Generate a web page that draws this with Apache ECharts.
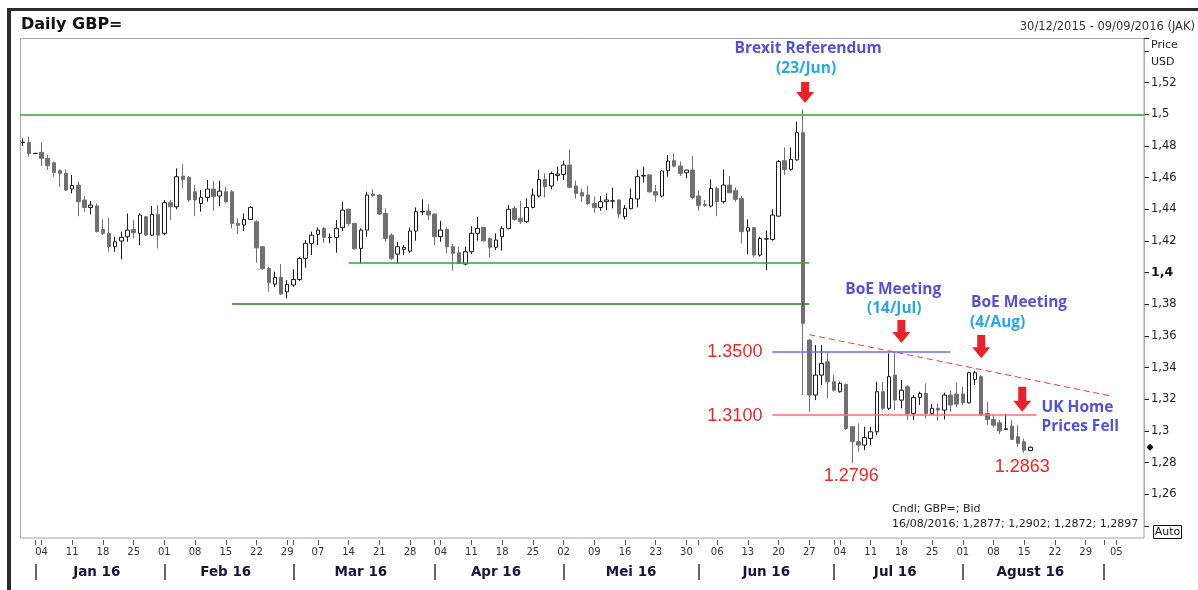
<!DOCTYPE html>
<html>
<head>
<meta charset="utf-8">
<script src="https://cdn.jsdelivr.net/npm/echarts@6/dist/echarts.min.js"></script>
<style>
html,body{margin:0;padding:0;background:#ffffff;}
#c{width:1198px;height:590px;}
</style>
</head>
<body>
<div id="c"></div>
<script>
// ---------------- DATA ----------------
// Axis calendar: every weekday from 30/12/2015 to 09/09/2016 (x-axis categories)
const rangeStart = [2015, 11, 30];
const rangeEnd = [2016, 8, 9];

// Daily GBP= candles, 30/12/2015 .. 16/08/2016 (one value per trading day)
const openPrices = [
1.4822,1.4821,1.4752,1.4760,1.4722,1.4694,1.4644,1.4627,1.4528,1.4553,1.4459,1.4412,1.4421,1.4273,1.4248,1.4164,1.4200,1.4227,1.4273,1.4248,
1.4353,1.4237,1.4368,1.4248,1.4442,1.4416,1.4610,1.4602,1.4511,1.4437,1.4475,1.4528,1.4484,1.4511,1.4511,1.4311,1.4301,1.4336,1.4322,1.4164,
1.4027,1.3928,1.3970,1.3879,1.3922,1.3957,1.4090,1.4185,1.4242,1.4280,1.4222,1.4223,1.4284,1.4400,1.4311,1.4153,1.4269,1.4496,1.4490,1.4374,
1.4237,1.4117,1.4147,1.4136,1.4263,1.4383,1.4389,1.4370,1.4227,1.4273,1.4164,1.4126,1.4054,1.4132,1.4248,1.4286,1.4216,1.4160,1.4227,1.4280,
1.4406,1.4343,1.4322,1.4412,1.4484,1.4589,1.4547,1.4614,1.4621,1.4680,1.4547,1.4505,1.4490,1.4437,1.4412,1.4448,1.4452,1.4459,1.4353,1.4404,
1.4465,1.4610,1.4617,1.4511,1.4484,1.4644,1.4707,1.4673,1.4631,1.4648,1.4484,1.4431,1.4421,1.4532,1.4448,1.4553,1.4518,1.4469,1.4263,1.4284,
1.4111,1.4212,1.4210,1.4357,1.4707,1.4652,1.4712,1.4884,1.3574,1.3227,1.3353,1.3437,1.3311,1.3248,1.3294,1.3027,1.2932,1.2911,1.2953,1.2995,
1.3248,1.3143,1.3353,1.3195,1.3279,1.3111,1.3212,1.3237,1.3111,1.3143,1.3132,1.3227,1.3233,1.3233,1.3178,1.3326,1.3343,1.3111,1.3073,1.3052,
1.3010,1.3031,1.2964,1.2932,1.2877
];
const highPrices = [
1.4848,1.4859,1.4756,1.4823,1.4743,1.4701,1.4652,1.4652,1.4617,1.4574,1.4484,1.4452,1.4437,1.4336,1.4349,1.4227,1.4259,1.4374,1.4332,1.4374,
1.4357,1.4421,1.4427,1.4459,1.4459,1.4659,1.4686,1.4610,1.4553,1.4522,1.4585,1.4579,1.4581,1.4543,1.4522,1.4343,1.4374,1.4421,1.4332,1.4168,
1.4037,1.4006,1.4054,1.3953,1.4021,1.4101,1.4206,1.4259,1.4286,1.4286,1.4248,1.4332,1.4448,1.4406,1.4315,1.4280,1.4511,1.4526,1.4496,1.4406,
1.4248,1.4195,1.4174,1.4286,1.4412,1.4463,1.4433,1.4374,1.4328,1.4286,1.4181,1.4164,1.4164,1.4294,1.4353,1.4290,1.4223,1.4248,1.4294,1.4427,
1.4421,1.4454,1.4469,1.4532,1.4648,1.4627,1.4638,1.4669,1.4707,1.4779,1.4581,1.4532,1.4549,1.4480,1.4484,1.4501,1.4536,1.4463,1.4427,1.4532,
1.4648,1.4669,1.4623,1.4553,1.4648,1.4743,1.4753,1.4701,1.4648,1.4737,1.4518,1.4459,1.4589,1.4543,1.4652,1.4610,1.4539,1.4484,1.4336,1.4286,
1.4227,1.4265,1.4400,1.4711,1.4791,1.4791,1.4954,1.5030,1.3580,1.3543,1.3543,1.3501,1.3353,1.3311,1.3300,1.3031,1.3048,1.3027,1.3027,1.3311,
1.3311,1.3490,1.3501,1.3322,1.3290,1.3227,1.3248,1.3300,1.3170,1.3174,1.3242,1.3254,1.3305,1.3279,1.3374,1.3381,1.3353,1.3185,1.3101,1.3069,
1.3107,1.3069,1.3037,1.2953,1.2902
];
const lowPrices = [
1.4800,1.4732,1.4750,1.4673,1.4648,1.4606,1.4543,1.4515,1.4501,1.4357,1.4385,1.4368,1.4254,1.4237,1.4132,1.4132,1.4084,1.4195,1.4216,1.4174,
1.4231,1.4231,1.4153,1.4237,1.4332,1.4400,1.4532,1.4448,1.4357,1.4385,1.4448,1.4391,1.4421,1.4437,1.4280,1.4244,1.4263,1.4332,1.4063,1.4016,
1.3879,1.3911,1.3858,1.3837,1.3911,1.3949,1.4031,1.4111,1.4174,1.4189,1.4185,1.4126,1.4263,1.4294,1.4143,1.4058,1.4227,1.4480,1.4364,1.4195,
1.4080,1.4058,1.4111,1.4126,1.4202,1.4364,1.4332,1.4174,1.4195,1.4122,1.4012,1.4054,1.4048,1.4117,1.4202,1.4195,1.4096,1.4143,1.4139,1.4273,
1.4328,1.4307,1.4315,1.4406,1.4475,1.4475,1.4526,1.4581,1.4585,1.4532,1.4467,1.4448,1.4427,1.4379,1.4391,1.4395,1.4406,1.4343,1.4336,1.4400,
1.4412,1.4568,1.4505,1.4448,1.4475,1.4606,1.4665,1.4610,1.4596,1.4463,1.4391,1.4416,1.4412,1.4357,1.4437,1.4501,1.4448,1.4185,1.4117,1.4096,
1.4101,1.4016,1.4202,1.4353,1.4617,1.4644,1.4707,1.3227,1.3122,1.3195,1.3290,1.3206,1.3248,1.3242,1.3006,1.2796,1.2869,1.2879,1.2911,1.2974,
1.3132,1.3132,1.3132,1.3143,1.3069,1.3069,1.3164,1.3079,1.3101,1.3065,1.3073,1.3122,1.3153,1.3164,1.3174,1.3290,1.3094,1.3037,1.3023,1.2980,
1.3006,1.2943,1.2900,1.2863,1.2872
];
const closePrices = [
1.4824,1.4753,1.4754,1.4722,1.4675,1.4633,1.4627,1.4522,1.4551,1.4448,1.4412,1.4427,1.4259,1.4248,1.4164,1.4195,1.4223,1.4269,1.4252,1.4364,
1.4237,1.4368,1.4237,1.4442,1.4416,1.4606,1.4589,1.4459,1.4459,1.4475,1.4528,1.4480,1.4515,1.4448,1.4311,1.4299,1.4336,1.4412,1.4157,1.4027,
1.3936,1.3970,1.3865,1.3926,1.3957,1.4090,1.4185,1.4237,1.4269,1.4223,1.4224,1.4280,1.4395,1.4311,1.4153,1.4269,1.4490,1.4488,1.4370,1.4216,
1.4090,1.4164,1.4160,1.4263,1.4385,1.4387,1.4364,1.4227,1.4269,1.4164,1.4122,1.4058,1.4132,1.4248,1.4280,1.4202,1.4160,1.4206,1.4280,1.4400,
1.4336,1.4322,1.4412,1.4490,1.4589,1.4543,1.4627,1.4623,1.4680,1.4539,1.4501,1.4484,1.4437,1.4412,1.4448,1.4459,1.4454,1.4370,1.4406,1.4469,
1.4606,1.4614,1.4511,1.4490,1.4642,1.4705,1.4673,1.4627,1.4648,1.4475,1.4425,1.4425,1.4532,1.4448,1.4553,1.4505,1.4463,1.4259,1.4284,1.4111,
1.4216,1.4214,1.4364,1.4701,1.4652,1.4715,1.4884,1.3680,1.3227,1.3353,1.3427,1.3311,1.3258,1.3301,1.3016,1.2932,1.2911,1.2959,1.2995,1.3248,
1.3143,1.3343,1.3195,1.3258,1.3111,1.3212,1.3237,1.3111,1.3143,1.3132,1.3227,1.3164,1.3170,1.3178,1.3368,1.3368,1.3101,1.3073,1.3037,1.3001,
1.3014,1.2947,1.2922,1.2879,1.2897
];

// Tick labels
const yTickValues = [1.26,1.28,1.3,1.32,1.34,1.36,1.38,1.4,1.42,1.44,1.46,1.48,1.5,1.52];
const monthLabels = {'2016-01':'Jan 16','2016-02':'Feb 16','2016-03':'Mar 16','2016-04':'Apr 16','2016-05':'Mei 16','2016-06':'Jun 16','2016-07':'Jul 16','2016-08':'Agust 16'};

// Reference levels drawn on the chart
const levelTop = 1.5;
const supportHigh = 1.4065;
const supportLow = 1.3804;
const level1350 = 1.35;
const level1310 = 1.31;
const trendStart = 1.3608, trendEnd = 1.3222;
const lastClose = 1.2897;

// Texts
const titleText = 'Daily GBP=';
const rangeText = '30/12/2015 - 09/09/2016 (JAK)';
const infoLines = ['Cndl; GBP=; Bid', '16/08/2016; 1,2877; 1,2902; 1,2872; 1,2897'];
const eventTitles = ['Brexit Referendum', 'BoE Meeting', 'BoE Meeting'];
const eventDates = ['(23/Jun)', '(14/Jul)', '(4/Aug)'];
const homeTexts = ['UK Home', 'Prices Fell'];
const levelTexts = ['1.3500', '1.3100', '1.2796', '1.2863'];

// ---------------- BUILD ----------------
const dates = [];
for (let t = Date.UTC(rangeStart[0], rangeStart[1], rangeStart[2]); t <= Date.UTC(rangeEnd[0], rangeEnd[1], rangeEnd[2]); t += 86400000) {
  const d = new Date(t); const wd = d.getUTCDay();
  if (wd !== 0 && wd !== 6) dates.push(d.toISOString().slice(0, 10));
}
const isMonday = i => new Date(dates[i] + 'T00:00:00Z').getUTCDay() === 1;
const isMonthStart = i => i > 0 && dates[i].slice(0, 7) !== dates[i - 1].slice(0, 7);
const monthMid = new Set();
(function () {
  let a = 0;
  for (let i = 1; i <= dates.length; i++) {
    if (i === dates.length || dates[i].slice(0, 7) !== dates[i - 1].slice(0, 7)) {
      if (monthLabels[dates[a].slice(0, 7)] && a > 0) monthMid.add(a + Math.floor((i - a) / 2));
      a = i;
    }
  }
})();
const candles = openPrices.map((o, i) => [o, closePrices[i], lowPrices[i], highPrices[i]]);

const DV = '"DejaVu Sans", Verdana, sans-serif';
const AR = '"Liberation Sans", Arial, sans-serif';
const OS = '"Open Sans", sans-serif';
const VIOLET = '#5150dc';
const SKY = '#29a6e6';
const RED = '#f02626';
const ARROW = '#e82228';

const fmtY = v => {
  const r = Math.round(v * 100) / 100;
  if (!yTickValues.some(t => Math.abs(t - r) < 1e-9)) return '';
  const s = String(r).replace('.', ',');
  return Math.abs(r - 1.4) < 1e-9 ? '{b|' + s + '}' : s;
};

const option = {
  animation: false,
  backgroundColor: '#ffffff',
  grid: { left: 20, right: 54, top: 38, bottom: 64, outerBoundsMode: 'none', containLabel: false },
  xAxis: [
    {
      type: 'category', data: dates, boundaryGap: true, offset: 14,
      axisLine: { show: false },
      axisTick: { show: true, alignWithLabel: true, length: 5, interval: (i) => isMonday(i) || isMonthStart(i), lineStyle: { color: '#555', width: 1 } },
      axisLabel: { interval: (i) => isMonday(i), formatter: v => v.slice(8, 10), margin: 7, fontFamily: DV, fontSize: 10, color: '#333' },
      splitLine: { show: false }
    },
    {
      type: 'category', data: dates, boundaryGap: true, offset: 38, position: 'bottom',
      axisLine: { show: false },
      axisTick: { show: true, alignWithLabel: true, length: 16, interval: (i) => isMonthStart(i), lineStyle: { color: '#333', width: 1.5 } },
      axisLabel: { interval: (i) => monthMid.has(i), formatter: v => monthLabels[v.slice(0, 7)] || '', margin: 1, fontFamily: DV, fontSize: 13.5, fontWeight: 'bold', color: '#15153a' },
      splitLine: { show: false }
    }
  ],
  yAxis: {
    type: 'value', position: 'right', min: 1.24, max: 1.5482, interval: 0.02, scale: true,
    axisLine: { show: true, lineStyle: { color: '#b4b4c0', width: 1 } },
    axisTick: { show: true, length: 5, lineStyle: { color: '#222', width: 1 } },
    axisLabel: { formatter: fmtY, margin: 7, fontFamily: DV, fontSize: 11.5, color: '#222',
      showMinLabel: true, showMaxLabel: true,
      rich: { b: { fontFamily: DV, fontSize: 12.5, fontWeight: 'bold', color: '#111' } } },
    splitLine: { show: false }
  },
  series: [{
    type: 'candlestick',
    data: candles,
    barWidth: 4,
    itemStyle: {
      color: '#ffffff', color0: '#707070',
      borderColor: '#1a1a1a', borderColor0: '#707070', borderColorDoji: '#1a1a1a', borderWidth: 1
    },
    emphasis: { disabled: true },
    markLine: {
      silent: true, symbol: 'none', animation: false,
      label: { show: false },
      emphasis: { disabled: true },
      data: [
        { yAxis: levelTop, lineStyle: { color: '#35a335', width: 1.5, type: 'solid' } },
        [{ coord: [dates[53], supportHigh], lineStyle: { color: '#35a335', width: 1.5, type: 'solid' } }, { coord: [dates[128], supportHigh] }],
        [{ coord: [dates[34], supportLow], lineStyle: { color: '#1f861f', width: 1.5, type: 'solid' } }, { coord: [dates[128], supportLow] }],
        [{ coord: [dates[122], level1350], lineStyle: { color: '#6d6dfa', width: 1.5, type: 'solid' } }, { coord: [dates[151], level1350] }],
        [{ coord: [dates[122], level1310], lineStyle: { color: '#ff6f6f', width: 1.5, type: 'solid' } }, { coord: [dates[165], level1310] }],
        [{ coord: [dates[128], trendStart], lineStyle: { color: '#ff3636', width: 1, type: [6, 4] } }, { coord: [dates[177], trendEnd] }]
      ]
    }
  }]
};

const chart = echarts.init(document.getElementById('c'), null, { renderer: 'canvas' });
chart.setOption(option);

const X = i => chart.convertToPixel({ xAxisIndex: 0 }, dates[i]);
const Y = p => chart.convertToPixel({ yAxisIndex: 0 }, p);

function txt(text, x, y, font, fill, align) {
  return { type: 'text', silent: true, z: 100, x: x, y: y,
    style: { text: text, font: font, fill: fill, textAlign: align || 'center', textVerticalAlign: 'middle', align: align || 'center', verticalAlign: 'middle' } };
}
function arrow(cx, yTop, yTip) {
  const hh = 11, sw = 4, hw = 9;
  return { type: 'polygon', silent: true, z: 100,
    shape: { points: [[cx - sw, yTop], [cx + sw, yTop], [cx + sw, yTip - hh], [cx + hw, yTip - hh], [cx, yTip], [cx - hw, yTip - hh], [cx - sw, yTip - hh]] },
    style: { fill: ARROW } };
}

const annFont = 'bold 15.5px ' + OS;
const numFont = '18px ' + AR;
const g = [];
// outer dark frame (top & left) and plot frame
g.push({ type: 'rect', silent: true, z: 1, shape: { x: 7, y: 8, width: 1191, height: 3 }, style: { fill: '#2a2a2a' } });
g.push({ type: 'rect', silent: true, z: 1, shape: { x: 7, y: 8, width: 4, height: 582 }, style: { fill: '#2a2a2a' } });
g.push({ type: 'rect', silent: true, z: 1, shape: { x: 20.5, y: 38.5, width: 1123.5, height: 499.5 }, style: { fill: 'none', stroke: '#a3a3b5', lineWidth: 1 } });
// header texts
g.push(txt(titleText, 21, 25, 'bold 16px ' + DV, '#111', 'left'));
g.push(txt(rangeText, 1195, 27, '11.5px ' + DV, '#333', 'right'));
g.push(txt('Price', 1151, 45, '11px ' + DV, '#222', 'left'));
g.push(txt('USD', 1151, 62, '11px ' + DV, '#222', 'left'));
// info
g.push(txt(infoLines[0], 892, 509.5, '11px ' + DV, '#222', 'left'));
g.push(txt(infoLines[1], 892, 524.5, '11px ' + DV, '#222', 'left'));
// Auto box
g.push({ type: 'rect', silent: true, z: 100, shape: { x: 1153.5, y: 525.5, width: 28, height: 13 }, style: { fill: '#fff', stroke: '#111', lineWidth: 1 } });
g.push(txt('Auto', 1167.5, 532, '11px ' + DV, '#111', 'center'));
// last close diamond on axis
const yd = Y(lastClose);
g.push({ type: 'polygon', silent: true, z: 100, shape: { points: [[1150, yd - 3.5], [1153.5, yd], [1150, yd + 3.5], [1146.5, yd]] }, style: { fill: '#000' } });

// event annotations
g.push(txt(eventTitles[0], X(127) + 5, Y(1.5413), annFont, VIOLET));
g.push(txt(eventDates[0], X(127) + 3, Y(1.5292), annFont, SKY));
g.push(arrow(X(127) + 2, Y(1.5204), Y(1.5071)));

g.push(txt(eventTitles[1], X(142) - 2, Y(1.3896), annFont, VIOLET));
g.push(txt(eventDates[1], X(142) - 1, Y(1.3770), annFont, SKY));
g.push(arrow(X(143), Y(1.3701), Y(1.3555)));

g.push(txt(eventTitles[2], X(162) + 1, Y(1.3808), annFont, VIOLET));
g.push(txt(eventDates[2], X(159) - 2, Y(1.3683), annFont, SKY));
g.push(arrow(X(156), Y(1.3606), Y(1.3459)));

g.push(txt(homeTexts[0], X(165) + 5, Y(1.3147), annFont, VIOLET, 'left'));
g.push(txt(homeTexts[1], X(165) + 5, Y(1.3025), annFont, VIOLET, 'left'));
g.push(arrow(X(163) - 2, Y(1.3279), Y(1.3121)));

g.push(txt(levelTexts[0], X(122) - 10, Y(1.3498), numFont, RED, 'right'));
g.push(txt(levelTexts[1], X(122) - 10, Y(1.3096), numFont, RED, 'right'));
g.push(txt(levelTexts[2], X(135) - 1, Y(1.2715), numFont, RED, 'center'));
g.push(txt(levelTexts[3], X(163) - 2, Y(1.2774), numFont, RED, 'center'));

chart.setOption({ graphic: { elements: g } });
</script>
</body>
</html>
